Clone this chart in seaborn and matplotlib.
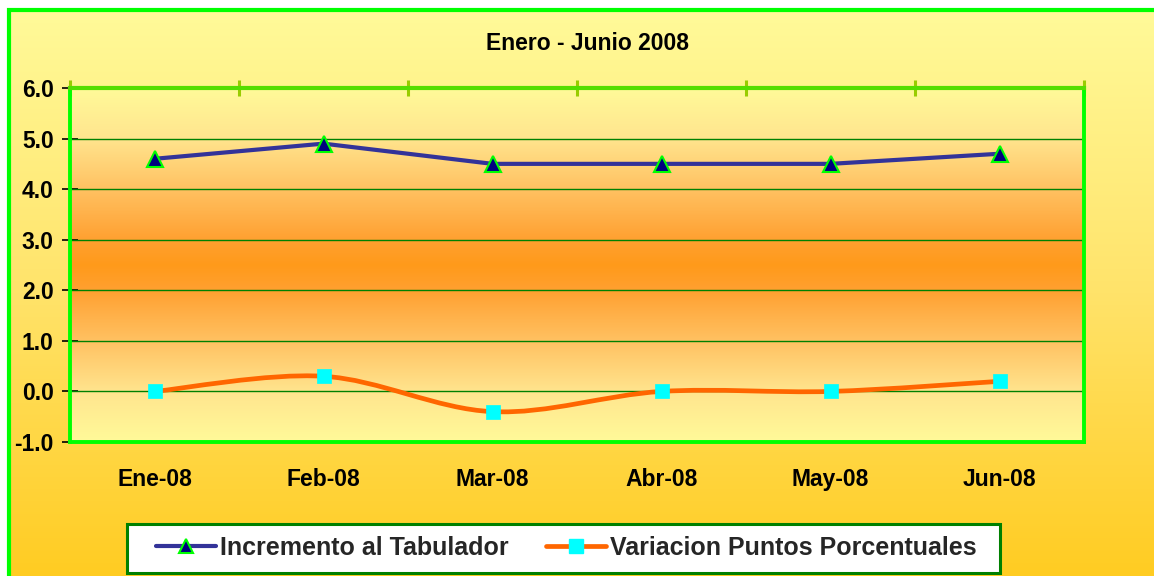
import matplotlib
matplotlib.use("Agg")
import matplotlib.pyplot as plt
import seaborn as sns
import numpy as np
import pandas as pd
from matplotlib.colors import LinearSegmentedColormap
from matplotlib.path import Path
from matplotlib.patches import PathPatch, Rectangle
from matplotlib.lines import Line2D

# 数据
months = ["Ene-08", "Feb-08", "Mar-08", "Abr-08", "May-08", "Jun-08"]
incremento = [4.6, 4.9, 4.5, 4.5, 4.5, 4.7]
variacion = [0.0, 0.3, -0.4, 0.0, 0.0, 0.2]
y_ticks = [-1.0, 0.0, 1.0, 2.0, 3.0, 4.0, 5.0, 6.0]
title = "Enero - Junio 2008"
label_inc = "Incremento al Tabulador"
label_var = "Variacion Puntos Porcentuales"

sns.set_theme(style="white")
plt.rcParams["font.family"] = ["Liberation Sans", "DejaVu Sans"]

W, H = 1154, 576
fig = plt.figure(figsize=(W / 100, H / 100), dpi=100)
fig.patch.set_facecolor("white")

# 背景渐变（整个图表区）
bg = fig.add_axes([9 / W, 0, 1 - 9 / W, 1 - 10 / H], zorder=-5)
bg_cmap = LinearSegmentedColormap.from_list("bg", ["#FFFA99", "#FFE36A", "#FFCC22"])
bg.imshow(np.linspace(0, 1, 256).reshape(-1, 1), cmap=bg_cmap, aspect="auto",
          extent=[0, 1, 0, 1], origin="upper")
bg.axis("off")

# 外框
fig.patches.append(Rectangle((9 / W, -0.05), 1.2, 1.05 - 10 / H, transform=fig.transFigure,
                             fill=False, edgecolor="#00FF00", linewidth=3, zorder=10))

ax = fig.add_axes([70 / W, (H - 442) / H, 1014 / W, 354 / H])
x = np.arange(len(months))

# 绘图区渐变（上下浅黄，中间橙色）
plot_cmap = LinearSegmentedColormap.from_list(
    "pa", [(0.0, "#FFFA99"), (0.14, "#FFE58E"), (0.29, "#FFC060"), (0.43, "#FFA030"),
           (0.5, "#FF9A1A"), (0.57, "#FFA030"), (0.71, "#FFC060"), (0.86, "#FFE58E"),
           (1.0, "#FFFA99")])
ax.imshow(np.linspace(0, 1, 256).reshape(-1, 1), cmap=plot_cmap, aspect="auto",
          extent=[-0.5, 5.5, -1, 6], origin="upper", zorder=0)

# 网格线
for yv in y_ticks[1:-1]:
    ax.axhline(yv, color="#008000", linewidth=1, zorder=1)

# 蓝线：折线
df_inc = pd.DataFrame({"x": x, "y": incremento})
sns.lineplot(data=df_inc, x="x", y="y", ax=ax, color="#333399", linewidth=3,
             marker="^", markersize=11.5, markerfacecolor="#000080",
             markeredgecolor="#00FF00", markeredgewidth=1.5, zorder=4)

# 橙线：平滑曲线（Excel 风格贝塞尔）
pts = np.column_stack([x, variacion]).astype(float)
verts = [tuple(pts[0])]
codes = [Path.MOVETO]
for i in range(len(pts) - 1):
    p0 = pts[i - 1] if i > 0 else pts[i]
    p1, p2 = pts[i], pts[i + 1]
    p3 = pts[i + 2] if i + 2 < len(pts) else pts[i + 1]
    c1 = p1 + (p2 - p0) / 6
    c2 = p2 - (p3 - p1) / 6
    verts += [tuple(c1), tuple(c2), tuple(p2)]
    codes += [Path.CURVE4] * 3
ax.add_patch(PathPatch(Path(verts, codes), facecolor="none", edgecolor="#FF6600",
                       linewidth=3.4, zorder=3, capstyle="round"))
df_var = pd.DataFrame({"x": x, "y": variacion})
sns.scatterplot(data=df_var, x="x", y="y", ax=ax, marker="s", s=100,
                color="#00FFFF", edgecolor="#00FFFF", linewidth=0.5, zorder=5)

ax.set_xlim(-0.5, 5.5)
ax.set_ylim(-1, 6)
ax.set_xlabel("")
ax.set_ylabel("")

# 坐标轴样式
ax.set_yticks(y_ticks)
ax.set_yticklabels([f"{v:.1f}" for v in y_ticks], fontsize=16.5, fontweight="bold", color="black")
ax.set_xticks(x)
ax.set_xticklabels(months, fontsize=16.5, fontweight="bold", color="black")
ax.tick_params(axis="x", which="major", length=0, pad=19)
ax.tick_params(axis="y", which="major", left=True, direction="inout", length=11.5,
               width=1.2, color="black", pad=6)
ax.set_xticks(np.arange(-0.5, 6, 1), minor=True)
ax.tick_params(axis="x", which="minor", top=True, bottom=False, direction="inout",
               length=12, width=2.2, color="#99CC00")

for side in ["left", "right", "bottom"]:
    ax.spines[side].set_color("#00FF00")
    ax.spines[side].set_linewidth(2.8)
ax.spines["top"].set_color("#55DD00")
ax.spines["top"].set_linewidth(3)

# 标题
fig.text(588 / W, 1 - 43 / H, title, ha="center", va="center", fontsize=16.5,
         fontweight="bold", color="black")

# 图例框
fig.patches.append(Rectangle((127 / W, 1 - 573 / H), 873 / W, 49 / H,
                             transform=fig.transFigure, facecolor="white",
                             edgecolor="#008000", linewidth=2.2, zorder=8))

# 图例
handles = [
    Line2D([], [], color="#333399", linewidth=3, marker="^", markersize=9.5,
           markerfacecolor="#000080", markeredgecolor="#00FF00", markeredgewidth=1.5),
    Line2D([], [], color="#FF6600", linewidth=3.4, marker="s", markersize=9.5,
           markerfacecolor="#00FFFF", markeredgecolor="#00FFFF"),
]
leg = fig.legend(handles, [label_inc, label_var], loc="center",
                 bbox_to_anchor=(566 / W, 1 - 548 / H), ncol=2, frameon=False,
                 prop={"weight": "bold", "size": 18}, handlelength=2.4,
                 handletextpad=0.15, columnspacing=1.5, borderpad=0.3,
                 borderaxespad=0)
leg.set_zorder(9)

fig.savefig("out.png", dpi=100)
plt.close(fig)
